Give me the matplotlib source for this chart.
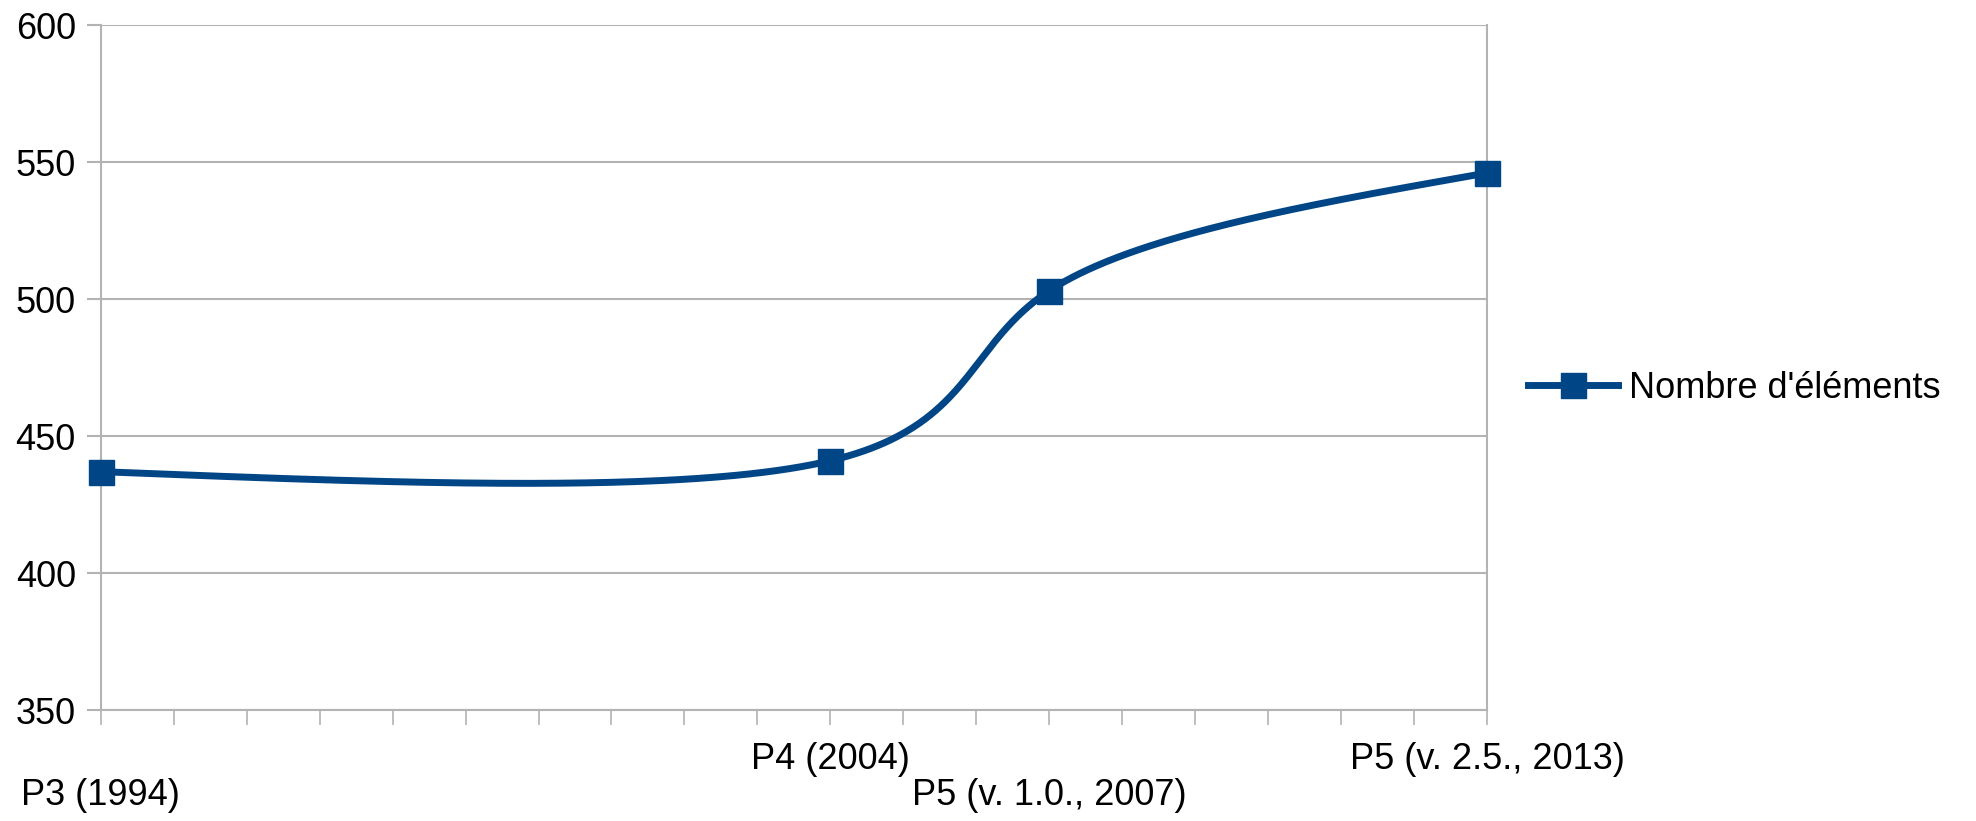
import numpy as np
import matplotlib.pyplot as plt
from matplotlib.transforms import blended_transform_factory

# Data
years = [1994, 2004, 2007, 2013]
counts = [437, 441, 503, 546]
labels = ["P3 (1994)", "P4 (2004)", "P5 (v. 1.0., 2007)", "P5 (v. 2.5., 2013)"]
label_row = [1, 0, 1, 0]  # 0 = upper row, 1 = lower row
series_name = "Nombre d'éléments"

blue = "#004586"
grid = "#b3b3b3"


def natural_spline(t, y, ts):
    # natural cubic spline y(t) evaluated at ts
    t = np.asarray(t, float)
    y = np.asarray(y, float)
    n = len(t)
    h = np.diff(t)
    A = np.zeros((n, n))
    b = np.zeros(n)
    A[0, 0] = A[-1, -1] = 1
    for i in range(1, n - 1):
        A[i, i - 1] = h[i - 1]
        A[i, i] = 2 * (h[i - 1] + h[i])
        A[i, i + 1] = h[i]
        b[i] = 3 * ((y[i + 1] - y[i]) / h[i] - (y[i] - y[i - 1]) / h[i - 1])
    c = np.linalg.solve(A, b)
    out = np.empty_like(ts)
    for k, tv in enumerate(ts):
        i = int(np.clip(np.searchsorted(t, tv, side="right") - 1, 0, n - 2))
        bi = (y[i + 1] - y[i]) / h[i] - h[i] * (2 * c[i] + c[i + 1]) / 3
        di = (c[i + 1] - c[i]) / (3 * h[i])
        dt = tv - t[i]
        out[k] = y[i] + bi * dt + c[i] * dt ** 2 + di * dt ** 3
    return out


plt.rcParams['font.family'] = ['Liberation Sans', 'DejaVu Sans']
fs = 26

fig = plt.figure(figsize=(19.76, 8.21), dpi=100)
ax = fig.add_axes([0.051, 0.1352, 0.7015, 0.8343])

# smoothed line: parametric spline through the points (like the office chart)
t = np.arange(len(years))
ts = np.linspace(0, len(years) - 1, 600)
ax.plot(natural_spline(t, years, ts), natural_spline(t, counts, ts),
        color=blue, lw=5, solid_capstyle="round", zorder=3)
ax.plot(years, counts, ls="none", marker="s", ms=18, color=blue, zorder=4, clip_on=False)

ax.set_xlim(1994, 2013)
ax.set_ylim(350, 600)
ax.set_yticks(np.arange(350, 601, 50))
ax.set_xticks(np.arange(1994, 2014, 1))
ax.set_xticklabels([])
ax.yaxis.grid(True, color=grid, lw=1.5)
ax.set_axisbelow(True)
for s in ax.spines.values():
    s.set_color(grid)
    s.set_linewidth(1.5)
ax.spines["top"].set_visible(False)
ax.tick_params(axis="x", length=11, color=grid, width=1.2)
ax.tick_params(axis="y", length=10, color=grid, width=1.5, labelsize=fs, pad=8)

trans = blended_transform_factory(ax.transData, ax.transAxes)
for yr, lab, row in zip(years, labels, label_row):
    ax.text(yr, -0.046 - row * 0.053, lab, transform=trans, ha="center", va="top", fontsize=fs)

handle, = ax.plot([], [], color=blue, lw=5, marker="s", ms=18)
fig.legend([handle], [series_name], loc="center left", bbox_to_anchor=(1528 / 1976, 1 - 388 / 821),
           frameon=False, fontsize=fs, handlelength=2.5, handletextpad=0.3,
           borderpad=0, borderaxespad=0)

fig.savefig("out.png", dpi=100)
